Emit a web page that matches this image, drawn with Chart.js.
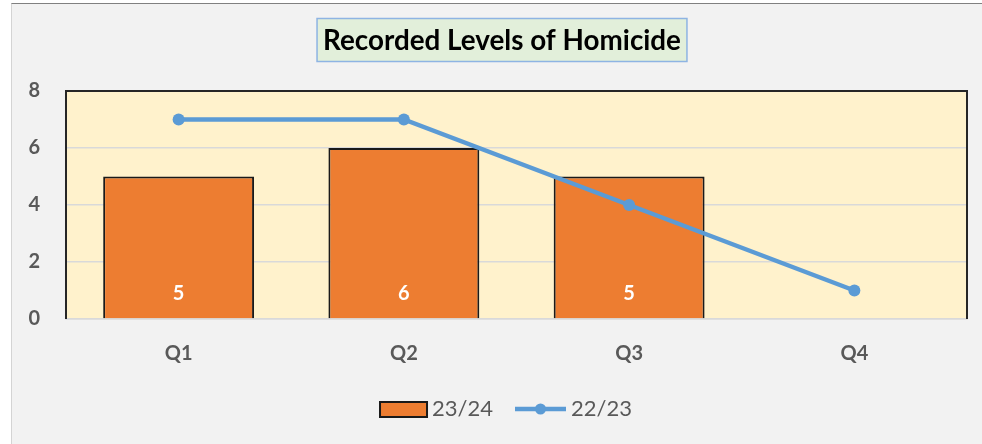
<!DOCTYPE html>
<html>
<head>
<meta charset="utf-8">
<title>Recorded Levels of Homicide</title>
<script src="https://cdn.jsdelivr.net/npm/chart.js@4"></script>
<style>
  html, body { margin: 0; padding: 0; background: #fff; }
  #frame {
    position: absolute; left: 11px; top: 3px; width: 971px; height: 441px;
    background: #f2f2f2; border-top: 1px solid #808080; border-left: 1px solid #d4d4d4;
    box-sizing: border-box;
  }
  #wrap { position: absolute; left: 0; top: 0; width: 982px; height: 444px; }
</style>
</head>
<body>
<div id="frame"></div>
<div id="wrap"><canvas id="homicideChart" width="982" height="444"></canvas></div>
<script>
// Chart data
const quarters = ['Q1', 'Q2', 'Q3', 'Q4'];
const values2324 = [5, 6, 5, null];
const values2223 = [7, 7, 4, 1];
const yTicks = [0, 2, 4, 6, 8];
const seriesNames = ['23/24', '22/23'];
const chartTitle = 'Recorded Levels of Homicide';

const FONT = 'Lato, "Open Sans", sans-serif';
const GREY_TEXT = '#595959';

// plot background, frame, title box, bar labels and legend
const decorPlugin = {
    id: 'decor',
    beforeDraw(chart) {
        const { ctx, chartArea: a } = chart;
        ctx.save();
        ctx.fillStyle = '#fff2cc';
        ctx.fillRect(a.left, a.top, a.right - a.left, a.bottom - a.top);
        ctx.restore();
    },
    afterDatasetsDraw(chart) {
        const { ctx, chartArea: a } = chart;
        ctx.save();
        // frame round the plot area (top, left, right)
        ctx.strokeStyle = '#262626';
        ctx.lineWidth = 2;
        ctx.beginPath();
        ctx.moveTo(a.left, a.bottom);
        ctx.lineTo(a.left, a.top);
        ctx.lineTo(a.right, a.top);
        ctx.lineTo(a.right, a.bottom);
        ctx.stroke();

        // value labels inside the base of each bar
        const barMeta = chart.getDatasetMeta(0);
        ctx.fillStyle = '#ffffff';
        ctx.font = 'bold 20px ' + FONT;
        ctx.textAlign = 'center';
        ctx.textBaseline = 'middle';
        barMeta.data.forEach((bar, i) => {
            const v = values2324[i];
            if (v === null) return;
            ctx.fillText(String(v), bar.x, bar.base - 25);
        });
        ctx.restore();
    },
    afterDraw(chart) {
        const { ctx } = chart;
        ctx.save();
        // title box, text sized to the reference width
        const cx = 502, cy = 40;
        ctx.font = 'bold 100px ' + FONT;
        const size = Math.min(28, 358 / ctx.measureText(chartTitle).width * 100);
        ctx.font = 'bold ' + size.toFixed(1) + 'px ' + FONT;
        const tw = ctx.measureText(chartTitle).width;
        const bw = tw + 12, bh = 43;
        ctx.fillStyle = '#e2efda';
        ctx.fillRect(cx - bw / 2, cy - bh / 2, bw, bh);
        ctx.strokeStyle = '#8eb4e3';
        ctx.lineWidth = 1.5;
        ctx.strokeRect(cx - bw / 2, cy - bh / 2, bw, bh);
        ctx.fillStyle = '#000000';
        ctx.textAlign = 'center';
        ctx.textBaseline = 'middle';
        ctx.fillText(chartTitle, cx, cy + 1);

        // legend
        const ly = 409;
        ctx.font = '22px ' + FONT;
        ctx.textBaseline = 'middle';
        ctx.textAlign = 'left';
        const w0 = ctx.measureText(seriesNames[0]).width;
        const w1 = ctx.measureText(seriesNames[1]).width;
        const boxW = 47, lineW = 51, gap = 5, between = 22;
        const total = boxW + gap + w0 + between + lineW + gap + w1;
        let x = 506 - total / 2;
        ctx.fillStyle = '#ed7d31';
        ctx.fillRect(x, ly - 7, boxW, 15);
        ctx.strokeStyle = '#1a1a1a';
        ctx.lineWidth = 2;
        ctx.strokeRect(x, ly - 7, boxW, 15);
        x += boxW + gap;
        ctx.fillStyle = GREY_TEXT;
        ctx.fillText(seriesNames[0], x, ly);
        x += w0 + between;
        ctx.strokeStyle = '#5b9bd5';
        ctx.lineWidth = 4.5;
        ctx.beginPath();
        ctx.moveTo(x, ly);
        ctx.lineTo(x + lineW, ly);
        ctx.stroke();
        ctx.fillStyle = '#5b9bd5';
        ctx.beginPath();
        ctx.arc(x + lineW / 2, ly, 5.5, 0, Math.PI * 2);
        ctx.fill();
        x += lineW + gap;
        ctx.fillStyle = GREY_TEXT;
        ctx.fillText(seriesNames[1], x, ly);
        ctx.restore();
    }
};

const ctx = document.getElementById('homicideChart').getContext('2d');
const homicideChart = new Chart(ctx, {
    type: 'bar',
    data: {
        labels: quarters,
        datasets: [{
            label: seriesNames[0],
            data: values2324,
            backgroundColor: '#ed7d31',
            borderColor: '#1a1a1a',
            borderWidth: 2,
            barPercentage: 0.67,
            categoryPercentage: 1,
            order: 2
        }, {
            type: 'line',
            label: seriesNames[1],
            data: values2223,
            borderColor: '#5b9bd5',
            backgroundColor: '#5b9bd5',
            borderWidth: 4.5,
            pointRadius: 6,
            pointBorderWidth: 0,
            pointBackgroundColor: '#5b9bd5',
            tension: 0,
            order: 1
        }]
    },
    options: {
        responsive: false,
        animation: false,
        layout: { padding: { top: 91, right: 15, left: 0, bottom: 0 } },
        plugins: {
            legend: { display: false },
            title: { display: false },
            tooltip: { enabled: false }
        },
        scales: {
            x: {
                grid: { display: false, drawTicks: false },
                border: { color: '#d9d9d9', width: 1.5 },
                ticks: { color: GREY_TEXT, font: { family: FONT, size: 20, weight: 'bold' }, padding: 23 },
                afterFit(scale) { scale.height = 125; }
            },
            y: {
                min: 0,
                max: 8,
                afterBuildTicks(scale) { scale.ticks = yTicks.map(v => ({ value: v })); },
                grid: { color: '#d9d9d9', lineWidth: 1.5, drawTicks: false },
                border: { display: false },
                ticks: { color: GREY_TEXT, font: { family: FONT, size: 20, weight: 'bold' }, padding: 26 },
                afterFit(scale) { scale.width = 66; }
            }
        }
    },
    plugins: [decorPlugin]
});
</script>
</body>
</html>
